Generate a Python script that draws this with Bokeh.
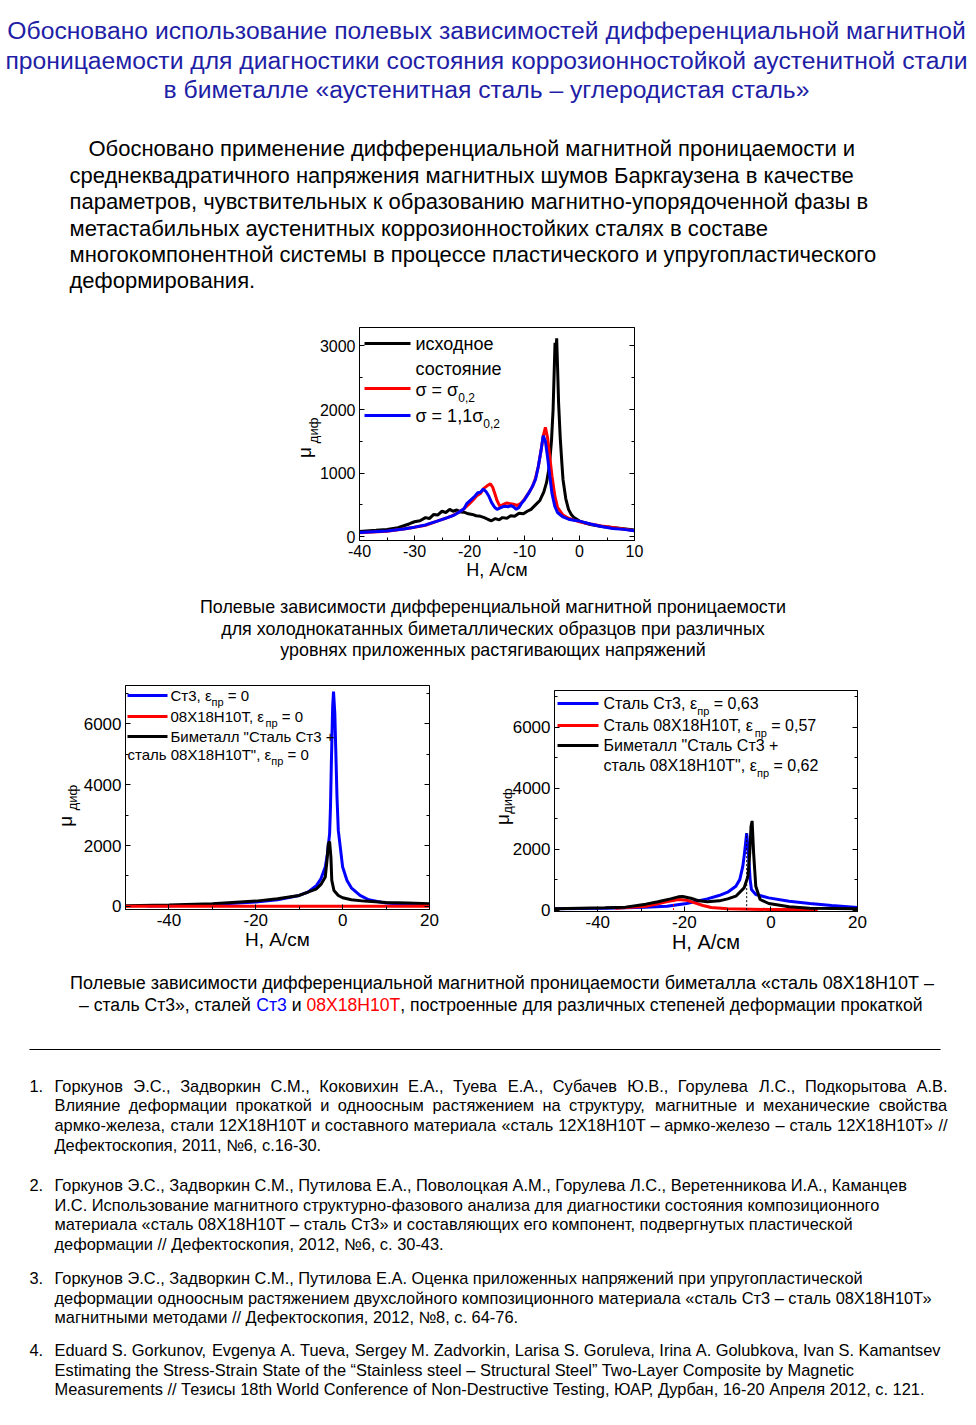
import math
from bokeh.plotting import figure
from bokeh.models import Range1d, FixedTicker, LinearAxis, Label, Arrow, CustomJSTickFormatter
from bokeh.layouts import column, row
from bokeh.embed import file_html
from bokeh.resources import INLINE
from bokeh.core.properties import value

FONT = "Liberation Sans"
TITLE_COLOR = "#1e1ea6"
RED = "#ff0000"
BLUE = "#0000ff"
PAGE_W = 976
NBSP = "\u00a0"

# ------------------------------------------------------------------ texts
title_lines = [
    "Обосновано использование полевых зависимостей дифференциальной магнитной",
    "проницаемости для диагностики состояния коррозионностойкой аустенитной стали",
    "в биметалле «аустенитная сталь – углеродистая сталь»",
]
para_lines = [
    "Обосновано применение  дифференциальной магнитной  проницаемости и",
    "среднеквадратичного напряжения  магнитных  шумов Баркгаузена в качестве",
    "параметров, чувствительных к образованию магнитно-упорядоченной  фазы в",
    "метастабильных аустенитных  коррозионностойких сталях в составе",
    "многокомпонентной системы в процессе пластического и упругопластического",
    "деформирования.",
]
cap1_lines = [
    "Полевые зависимости дифференциальной магнитной проницаемости",
    "для холоднокатанных биметаллических образцов при различных",
    "уровнях приложенных растягивающих напряжений",
]
cap2_line1 = "Полевые зависимости дифференциальной магнитной проницаемости биметалла «сталь 08Х18Н10Т –"
cap2_line2_parts = ["– сталь Ст3», сталей ", "Ст3", " и ", "08Х18Н10Т",
                    ", построенные для различных степеней деформации прокаткой"]
cap2_line2_colors = ["black", BLUE, "black", RED, "black"]

ref_numbers = ["1.", "2.", "3.", "4."]
refs = [
    ["Горкунов Э.С., Задворкин С.М., Коковихин Е.А., Туева Е.А., Субачев Ю.В., Горулева Л.С., Подкорытова А.В.",
     "Влияние деформации прокаткой и одноосным растяжением на структуру, магнитные и механические свойства",
     "армко-железа, стали 12Х18Н10Т и составного материала «сталь 12Х18Н10Т – армко-железо – сталь 12Х18Н10Т» //",
     "Дефектоскопия, 2011, №6, с.16-30."],
    ["Горкунов Э.С., Задворкин С.М., Путилова Е.А., Поволоцкая А.М., Горулева Л.С., Веретенникова И.А., Каманцев",
     "И.С. Использование магнитного структурно-фазового анализа для диагностики состояния композиционного",
     "материала «сталь 08Х18Н10Т  – сталь Ст3» и составляющих его компонент, подвергнутых пластической",
     "деформации // Дефектоскопия, 2012, №6, с. 30-43."],
    ["Горкунов Э.С., Задворкин С.М., Путилова Е.А. Оценка приложенных  напряжений при упругопластической",
     "деформации одноосным растяжением двухслойного композиционного материала «сталь Ст3 – сталь 08Х18Н10Т»",
     "магнитными методами // Дефектоскопия, 2012, №8, с. 64-76."],
    ["Eduard S. Gorkunov,  Evgenya A. Tueva,  Sergey M. Zadvorkin,  Larisa S. Goruleva,  Irina A. Golubkova,  Ivan S. Kamantsev",
     "Estimating  the Stress-Strain State of the “Stainless steel – Structural Steel” Two-Layer Composite by Magnetic",
     "Measurements  // Тезисы 18th  World Conference of Non-Destructive Testing,  ЮАР, Дурбан, 16-20 Апреля 2012, с. 121."],
]
refs_justified = [[True, True, True, False], [False] * 4, [False] * 3, [True, False, False]]

# ------------------------------------------------------------------ chart 1 data
c1_black_h = [-40, -37, -35, -33, -31, -30, -29, -28, -27.3, -26.5, -25.8, -25, -24.3, -23.6, -23, -22.3,
              -21.6, -21, -20.2, -19.5, -18.8, -18, -17.3, -16.6, -16, -15.3, -14.6, -14, -13.2, -12.5,
              -11.8, -11, -10.2, -9.5, -8.8, -8, -7.2, -6.5, -6, -5.5, -5.1, -4.8, -4.6, -4.45, -4.3,
              -4.15, -4.0, -3.8, -3.5, -3.2, -3, -2.5, -2, -1.5, -1, 0, 1, 2, 4, 6, 8, 10]
c1_black_mu = [80, 100, 115, 140, 200, 235, 250, 300, 285, 350, 340, 400, 380, 430, 400, 420,
               390, 385, 360, 350, 330, 320, 300, 270, 250, 285, 265, 300, 290, 330,
               320, 370, 360, 400, 430, 500, 570, 700, 850, 1100, 1500, 2000, 2600, 3050, 2800,
               3120, 2700, 2100, 1550, 1150, 900, 600, 430, 350, 300, 245, 215, 190, 160, 145, 125, 105]
c1_red_h = [-40, -35, -32, -30, -28, -26, -24, -23, -22, -21, -20, -19.3, -18.6, -18, -17.4, -16.8,
            -16.2, -15.8, -15.4, -15, -14.5, -14, -13.3, -12.6, -12, -11.3, -10.6, -10, -9.3, -8.6,
            -8, -7.5, -7, -6.6, -6.2, -5.8, -5.4, -5, -4.5, -4, -3, -2, -1, 0, 2, 4, 6, 8, 10]
c1_red_mu = [60, 85, 120, 150, 180, 240, 300, 335, 380, 440, 520, 580, 650, 680, 760, 800,
             830, 780, 680, 570, 480, 500, 530, 520, 510, 490, 530, 590, 680, 780,
             920, 1100, 1350, 1580, 1720, 1550, 1250, 950, 650, 460, 340, 290, 260, 235, 200, 170, 145, 120, 95]
c1_blue_h = [-40, -35, -32, -30, -28, -26, -24, -23, -22, -21, -20.5, -20, -19.5, -19, -18.5, -18,
             -17.5, -17, -16.5, -16, -15.5, -15, -14.5, -14, -13.5, -13, -12.5, -12, -11.5, -11,
             -10.5, -10, -9.5, -9, -8.5, -8, -7.5, -7, -6.6, -6.2, -5.8, -5.4, -5, -4.5, -4, -3,
             -2, -1, 0, 2, 4, 6, 8, 10]
c1_blue_mu = [65, 90, 120, 150, 185, 240, 300, 330, 380, 440, 520, 560, 600, 640, 690, 700,
              750, 710, 640, 540, 470, 430, 450, 470, 480, 470, 490, 470, 430, 460,
              530, 580, 650, 720, 800, 900, 1100, 1350, 1590, 1500, 1250, 950, 680, 480, 380, 310,
              275, 260, 245, 200, 160, 130, 115, 95]
c1_names = ["исходное", "состояние", "σ = σ", "σ = 1,1σ", "0,2"]

# ------------------------------------------------------------------ chart 2 data
c2_blue_h = [-45, -40, -30, -20, -15, -10, -8, -6, -5, -4, -3.5, -3, -2.8, -2.6, -2.3, -2.1, -1.8,
             -1.6, -1.3, -1, 0, 1, 2, 4, 6, 8, 10, 15, 20]
c2_blue_mu = [15, 25, 66, 142, 219, 361, 471, 690, 909, 1292, 1730, 2387, 3263, 4686, 6547, 7050, 6330,
              5234, 3590, 2496, 1292, 854, 613, 361, 219, 164, 110, 66, 44]
c2_black_h = [-50, -40, -30, -20, -15, -10, -8, -6, -5, -4, -3.6, -3.3, -3.0, -2.7, -2.5, -2, -1, 0,
              2, 5, 10, 15, 20]
c2_black_mu = [22, 44, 88, 175, 252, 361, 471, 580, 723, 964, 1511, 2058, 2130, 1620, 854, 525, 361, 285,
               219, 175, 131, 110, 88]
c2_red_h = [-51, -40, -20, 0, 20.5]
c2_red_mu = [5, 5, 5, 5, 5]

# ------------------------------------------------------------------ chart 3 data
c3_blue_h = [-50, -38, -29, -24, -19.5, -14.7, -12, -10, -8.1, -7.2, -6.5, -6.1, -5.6, -5.2, -4.8,
             -4.5, -3.5, -0.5, 4.2, 9, 14, 20]
c3_blue_mu = [43, 65, 98, 130, 217, 370, 478, 587, 783, 1000, 1435, 1870, 2520, 1870, 1000,
              674, 511, 402, 293, 217, 152, 87]
c3_black_h = [-50, -38.4, -33.6, -28.9, -26.1, -23.2, -21.4, -20.4, -18.5, -16.6, -14.7, -11.9, -10,
              -8.1, -6.2, -5.3, -4.9, -4.6, -4.35, -4.0, -3.5, -2.5, -0.5, 4.2, 9, 20]
c3_black_mu = [43, 76, 98, 196, 272, 370, 435, 446, 391, 304, 272, 304, 370,
               457, 728, 1109, 1870, 2739, 2924, 1870, 783, 348, 217, 109, 65, 43]
c3_red_h = [-36, -28.9, -26.1, -24.2, -22.3, -21.4, -19.5, -17.6, -15.7, -13.8, -10, -0.5, 10.8]
c3_red_mu = [65, 130, 207, 272, 326, 348, 326, 239, 152, 87, 43, 22, 22]
c3_mark_black_h = [-5.6]
c3_mark_black_mu = [2520]
c3_mark_red_h = [-22.5]
c3_mark_red_mu = [380]

# ------------------------------------------------------------------ ticks and tick labels
c1_xticks = [-40, -30, -20, -10, 0, 10]
c1_xlabels = ["-40", "-30", "-20", "-10", "0", "10"]
c1_xminor = [-35, -25, -15, -5, 5]
c1_yticks = [0, 1000, 2000, 3000]
c1_ylabels = ["0", "1000", "2000", "3000"]
c1_yminor = [500, 1500, 2500]
c23_xticks = [-40, -20, 0, 20]
c23_xlabels = ["-40", "-20", "0", "20"]
c23_xminor = [-50, -30, -10, 10]
c23_yticks = [0, 2000, 4000, 6000]
c23_ylabels = ["0", "2000", "4000", "6000"]
c23_yminor = [1000, 3000, 5000, 7000]
x_title = "H, А/см"
y_title_main = "μ"
y_title_sub = "диф"

# ------------------------------------------------------------------ text width estimate (Arial metrics)
W = {}
def _set(chars, w):
    for c in chars:
        W[c] = w
_set(" ,.:;!/ftI", 0.278)
_set("ijl'", 0.222)
_set("()-r“”", 0.333)
_set('"', 0.355)
_set("0123456789abdeghnopqu«»–?L", 0.556)
_set("cksvxyzJ", 0.5)
_set("=+", 0.584)
_set("m", 0.833)
_set("w", 0.722)
_set("ABEKPSVXY", 0.667)
_set("CDHNRU", 0.722)
_set("FTZ", 0.611)
_set("GOQ", 0.778)
_set("M", 0.833)
_set("W", 0.944)
for c, w in zip("АБВГДЕЖЗИЙКЛМНОПРСТУФХЦЧШЩЪЫЬЭЮЯ",
                [.667, .656, .667, .542, .677, .667, .923, .604, .719, .719, .583, .656, .833, .722, .778, .719,
                 .667, .722, .611, .635, .76, .667, .74, .667, .917, .938, .792, .885, .656, .719, 1.01, .722]):
    W[c] = w
for c, w in zip("абвгдежзийклмнопрстуфхцчшщъыьэюя",
                [.556, .573, .531, .365, .583, .556, .669, .458, .559, .559, .438, .583, .688, .552, .556, .542,
                 .556, .5, .458, .5, .823, .5, .56, .521, .802, .823, .625, .719, .521, .51, .75, .542]):
    W[c] = w
W.update({"σ": .617, "ε": .446, "μ": .576, "№": 1.07})

def tw(s, size):
    return sum(W.get(ch, 0.55) for ch in s) * size

# ------------------------------------------------------------------ helpers
def text_fig(h):
    p = figure(width=PAGE_W, height=h, x_range=Range1d(0, PAGE_W), y_range=Range1d(h, 0),
               x_axis_type=None, y_axis_type=None, toolbar_location=None, title=None,
               output_backend="svg", min_border=0)
    p.outline_line_color = None
    return p

def put(p, xs, ys, texts, size, color="black", align="left", style="normal"):
    p.text(x=xs, y=ys, text=texts, text_font=value(FONT), text_font_size=f"{size}px",
           text_color=color, text_align=align, text_baseline="middle", text_font_style=style)

def put_parts(p, x, y, parts, colors, size):
    cx = x
    for s, c in zip(parts, colors):
        lead = len(s) - len(s.lstrip(" "))
        put(p, [cx + tw(" " * lead, size)], [y], [s.strip(" ")], size, color=c)
        cx += tw(s, size)

def lab(p, x, y, text, size, color="black"):
    p.add_layout(Label(x=x, y=y, x_units="screen", y_units="screen", text=text,
                       text_font=FONT, text_font_size=f"{size}px", text_color=color,
                       text_align="left", text_baseline="middle"))

def rich(p, x, y, parts, size, sub_size):
    cx = x
    for t, sub in parts:
        fs = sub_size if sub else size
        yy = y - 0.45 * size if sub else y
        lead = len(t) - len(t.lstrip(" "))
        lab(p, cx + tw(" " * lead, fs), yy, t.strip(" "), fs)
        cx += tw(t, fs)

def sample(p, x0, x1, y, color):
    p.add_layout(Arrow(end=None, x_start=x0, y_start=y, x_end=x1, y_end=y,
                       start_units="screen", end_units="screen",
                       line_color=color, line_width=3))

def chart(width, height, borders, xr, yr, xt, xl, xm, yt, yl, ym, tick_size, xlab_size,
          sub_standoff, mu_standoff, mu_pad, sub_pad):
    p = figure(width=width, height=height, x_range=Range1d(*xr), y_range=Range1d(*yr),
               toolbar_location=None, output_backend="svg", title=None,
               min_border_left=borders[0], min_border_right=borders[1],
               min_border_top=borders[2], min_border_bottom=borders[3])
    p.grid.visible = False
    p.outline_line_color = "black"
    p.outline_line_width = 1
    p.xaxis.ticker = FixedTicker(ticks=xt, minor_ticks=xm)
    p.xaxis.major_label_overrides = dict(zip(xt, xl))
    p.yaxis.ticker = FixedTicker(ticks=yt, minor_ticks=ym)
    p.yaxis.major_label_overrides = dict(zip(yt, yl))
    ra = LinearAxis(ticker=FixedTicker(ticks=yt, minor_ticks=ym),
                    formatter=CustomJSTickFormatter(code="return ''"))
    p.add_layout(ra, "right")
    for ax in [p.xaxis[0], p.yaxis[0], ra]:
        ax.major_tick_in = 5
        ax.major_tick_out = 0
        ax.minor_tick_in = 3
        ax.minor_tick_out = 0
        ax.axis_line_color = "black"
        ax.major_tick_line_color = "black"
        ax.minor_tick_line_color = "black"
        ax.major_label_text_font = FONT
        ax.major_label_text_font_size = f"{tick_size}px"
        ax.major_label_text_color = "black"
        ax.major_label_standoff = 4
    ra.major_label_standoff = 0
    # x axis title
    xa = p.xaxis[0]
    xa.axis_label = x_title
    xa.axis_label_text_font = FONT
    xa.axis_label_text_font_size = f"{xlab_size}px"
    xa.axis_label_text_font_style = "normal"
    xa.axis_label_text_color = "black"
    xa.axis_label_standoff = 0
    # y axis title: subscript next to the tick labels, "μ" on an outer axis
    ya = p.yaxis[0]
    ya.axis_label = NBSP * sub_pad + y_title_sub
    ya.axis_label_text_font = FONT
    ya.axis_label_text_font_size = "13px"
    ya.axis_label_text_font_style = "normal"
    ya.axis_label_text_color = "black"
    ya.axis_label_standoff = sub_standoff
    mu_ax = LinearAxis(ticker=FixedTicker(ticks=[]), axis_label=y_title_main + NBSP * mu_pad,
                       axis_line_color=None,
                       major_tick_in=0, major_tick_out=0, minor_tick_in=0, minor_tick_out=0,
                       axis_label_text_font=FONT, axis_label_text_font_size="19px",
                       axis_label_text_font_style="normal", axis_label_text_color="black",
                       axis_label_standoff=mu_standoff)
    p.add_layout(mu_ax, "left")
    return p

# ------------------------------------------------------------------ top text
top = text_fig(318)
put(top, [486] * 3, [30, 60, 89], title_lines, 24.7, color=TITLE_COLOR, align="center")
put(top, [88, 69, 69, 69, 69, 69], [148, 175, 201, 228, 254, 280], para_lines, 22)

# ------------------------------------------------------------------ chart 1
p1 = chart(PAGE_W, 272, (359, 342, 9, 50), (-40, 10), (-60, 3290),
           c1_xticks, c1_xlabels, c1_xminor, c1_yticks, c1_ylabels, c1_yminor, 16, 18,
           -4, -12, 7, 2)
p1.line(c1_black_h, c1_black_mu, line_color="black", line_width=3)
p1.line(c1_red_h, c1_red_mu, line_color=RED, line_width=3)
p1.line(c1_blue_h, c1_blue_mu, line_color=BLUE, line_width=3)
sample(p1, 5, 51, 197, "black")
sample(p1, 5, 51, 152, RED)
sample(p1, 5, 51, 125, BLUE)
rich(p1, 56, 197, [(c1_names[0], False)], 18, 12)
rich(p1, 56, 172, [(c1_names[1], False)], 18, 12)
rich(p1, 56, 151, [(c1_names[2], False), (c1_names[4], True)], 18, 12)
rich(p1, 56, 125, [(c1_names[3], False), (c1_names[4], True)], 18, 12)

# ------------------------------------------------------------------ caption 1
cap1 = text_fig(75)
put(cap1, [492.5] * 3, [16, 38, 59], cap1_lines, 17.9, align="center")

# ------------------------------------------------------------------ chart 2
p2 = chart(488, 290, (125, 59, 20, 46), (-50, 20), (-100, 7250),
           c23_xticks, c23_xlabels, c23_xminor, c23_yticks, c23_ylabels, c23_yminor, 17, 19,
           1, -14, 9, 0)
p2.line(c2_blue_h, c2_blue_mu, line_color=BLUE, line_width=3)
p2.line(c2_black_h, c2_black_mu, line_color="black", line_width=3)
p2.line(c2_red_h, c2_red_mu, line_color=RED, line_width=3)
sample(p2, 2, 42, 214, BLUE)
sample(p2, 2, 42, 193, RED)
sample(p2, 2, 42, 173, "black")
rich(p2, 45, 214, [("Ст3, ε", False), ("пр", True), (" = 0", False)], 15, 11)
rich(p2, 45, 193, [("08Х18Н10Т, ε", False), ("пр", True), (" = 0", False)], 15, 11)
rich(p2, 45, 173, [("Биметалл \"Сталь Ст3 +", False)], 15, 11)
rich(p2, 2, 155, [("сталь 08Х18Н10Т\", ε", False), ("пр", True), (" = 0", False)], 15, 11)

# ------------------------------------------------------------------ chart 3
p3 = chart(488, 290, (66, 119, 25, 43), (-50, 20), (-45, 7200),
           c23_xticks, c23_xlabels, c23_xminor, c23_yticks, c23_ylabels, c23_yminor, 17, 20,
           -5, -16, 7, 0)
p3.line(c3_blue_h, c3_blue_mu, line_color=BLUE, line_width=3)
p3.line(c3_red_h, c3_red_mu, line_color=RED, line_width=3)
p3.line(c3_black_h, c3_black_mu, line_color="black", line_width=3)
p3.segment(x0=c3_mark_black_h, y0=[0], x1=c3_mark_black_h, y1=c3_mark_black_mu,
           line_color="black", line_width=1, line_dash="2 2")
p3.segment(x0=c3_mark_red_h, y0=[0], x1=c3_mark_red_h, y1=c3_mark_red_mu,
           line_color=RED, line_width=1, line_dash="2 2")
sample(p3, 3, 44, 208, BLUE)
sample(p3, 3, 44, 186, RED)
sample(p3, 3, 44, 166, "black")
rich(p3, 49, 208, [("Сталь Ст3, ε", False), ("пр", True), (" = 0,63", False)], 16, 11)
rich(p3, 49, 186, [("Сталь 08Х18Н10Т, ε", False), ("пр", True), (" = 0,57", False)], 16, 11)
rich(p3, 49, 166, [("Биметалл \"Сталь Ст3 +", False)], 16, 11)
rich(p3, 49, 146, [("сталь 08Х18Н10Т\", ε", False), ("пр", True), (" = 0,62", False)], 16, 11)

# ------------------------------------------------------------------ bottom text
bot = text_fig(470)
put(bot, [501.5], [27], [cap2_line1], 18, align="center")
CAP2_SIZE = 17.6
total2 = sum(tw(s, CAP2_SIZE) for s in cap2_line2_parts)
put_parts(bot, 500.5 - total2 / 2, 49, cap2_line2_parts, cap2_line2_colors, CAP2_SIZE)

bot.line([29, 940], [94, 94], line_color="black", line_width=1)

REF_SIZE = 16.4
REF_X = 54
ref_rows = [[130, 149, 169, 189], [229, 249, 268, 288], [322, 342, 361], [394, 414, 433]]
ref_right = [947, 947, 947, 940]
for num, lines, ys, just, rr in zip(ref_numbers, refs, ref_rows, refs_justified, ref_right):
    put(bot, [29], [ys[0]], [num], REF_SIZE)
    for line, y, j in zip(lines, ys, just):
        if j:
            words = line.split()
            widths = [tw(w, REF_SIZE) for w in words]
            gap = (rr - REF_X - sum(widths)) / (len(words) - 1)
            xs, x = [], float(REF_X)
            for w in widths:
                xs.append(x)
                x += w + gap
            put(bot, xs, [y] * len(words), words, REF_SIZE)
        else:
            put(bot, [REF_X], [y], [line], REF_SIZE)

layout = column(top, row(p1), cap1, row(column(p2), column(p3)), bot)
open("out.html", "w").write(file_html(layout, INLINE))
